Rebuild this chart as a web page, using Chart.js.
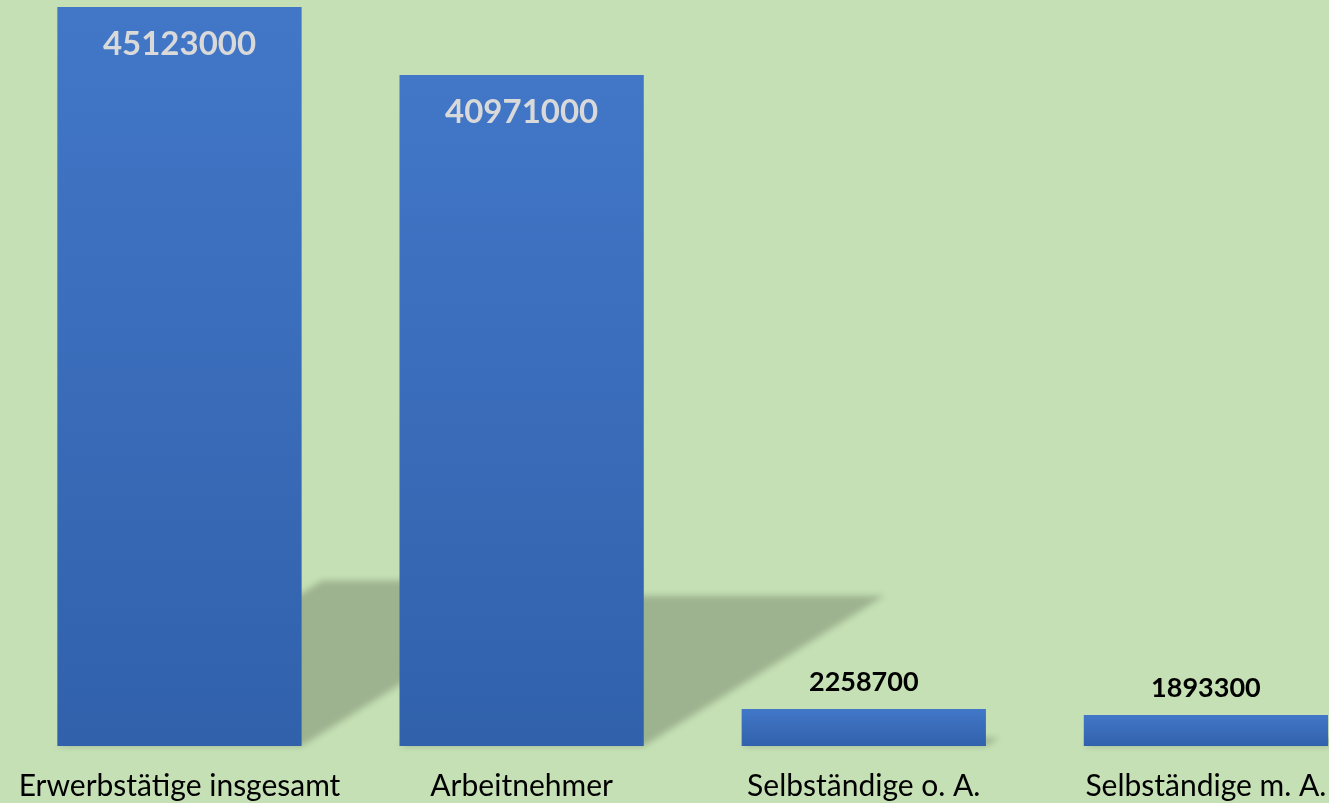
<!DOCTYPE html>
<html>
<head>
<meta charset="utf-8">
<script src="https://cdn.jsdelivr.net/npm/chart.js@4/dist/chart.umd.min.js"></script>
<style>
  html, body { margin: 0; padding: 0; overflow: hidden; background: #c5e0b4; }
  #wrap { width: 1384px; height: 803px; margin-left: -4px; }
</style>
</head>
<body>
<div id="wrap"><canvas id="chart"></canvas></div>
<script>
const categories = ["Erwerbstätige insgesamt", "Arbeitnehmer", "Selbständige o. A.", "Selbständige m. A."];
const values = [45123000, 40971000, 2258700, 1893300];

// bar fill: light blue at the top of each bar, darker at the bottom
function barFill(context) {
  const chart = context.chart;
  if (!chart.chartArea) return "#3b6dbd";
  const y = chart.scales.y;
  const top = y.getPixelForValue(values[context.dataIndex]);
  const bottom = y.getPixelForValue(0);
  if (!isFinite(top) || bottom - top < 1) return "#3b6dbd";
  const g = chart.ctx.createLinearGradient(0, top, 0, bottom);
  g.addColorStop(0, "#4277c8");
  g.addColorStop(1, "#3161ab");
  return g;
}

// slanted ground shadow behind each bar
const shadowPlugin = {
  id: "groundShadow",
  beforeDatasetsDraw(chart) {
    const ctx = chart.ctx;
    const meta = chart.getDatasetMeta(0);
    ctx.save();
    ctx.filter = "blur(3px)";
    ctx.fillStyle = "rgba(0,0,0,0.2)";
    meta.data.forEach(bar => {
      const w = bar.width;
      const left = bar.x - w / 2;
      const right = bar.x + w / 2;
      const h = (bar.base - bar.y) * 0.224;
      const dx = h * 1.6;
      ctx.beginPath();
      ctx.moveTo(left, bar.base);
      ctx.lineTo(right, bar.base);
      ctx.lineTo(right + dx, bar.base - h);
      ctx.lineTo(left + dx, bar.base - h);
      ctx.closePath();
      ctx.fill();
    });
    ctx.restore();
  }
};

// value labels: inside the tall bars, above the short ones
const labelPlugin = {
  id: "valueLabels",
  afterDatasetsDraw(chart) {
    const ctx = chart.ctx;
    const meta = chart.getDatasetMeta(0);
    ctx.save();
    ctx.textAlign = "center";
    ctx.textBaseline = "middle";
    meta.data.forEach((bar, i) => {
      const h = bar.base - bar.y;
      if (h > 100) {
        ctx.font = "bold 33px Lato";
        ctx.fillStyle = "#d9d9d9";
        ctx.fillText(String(values[i]), bar.x, bar.y + 37);
      } else {
        ctx.font = "bold 27px Lato";
        ctx.fillStyle = "#000000";
        ctx.fillText(String(values[i]), bar.x, bar.y - 27);
      }
    });
    ctx.restore();
  }
};

new Chart(document.getElementById("chart"), {
  type: "bar",
  data: {
    labels: categories,
    datasets: [{
      data: values,
      backgroundColor: barFill,
      borderWidth: 0,
      categoryPercentage: 1,
      barPercentage: 0.714
    }]
  },
  options: {
    responsive: true,
    maintainAspectRatio: false,
    animation: false,
    layout: { padding: { top: 7, left: 5, right: 3, bottom: 0 } },
    plugins: { legend: { display: false }, tooltip: { enabled: false } },
    scales: {
      x: {
        grid: { display: false, drawTicks: false },
        border: { display: false },
        ticks: { color: "#000000", font: { family: "Lato", size: 30 }, padding: 22, maxRotation: 0 },
        afterFit(scale) { scale.height = 57; }
      },
      y: { display: false, min: 0, max: 45123000 }
    }
  },
  plugins: [shadowPlugin, labelPlugin]
});
</script>
</body>
</html>
